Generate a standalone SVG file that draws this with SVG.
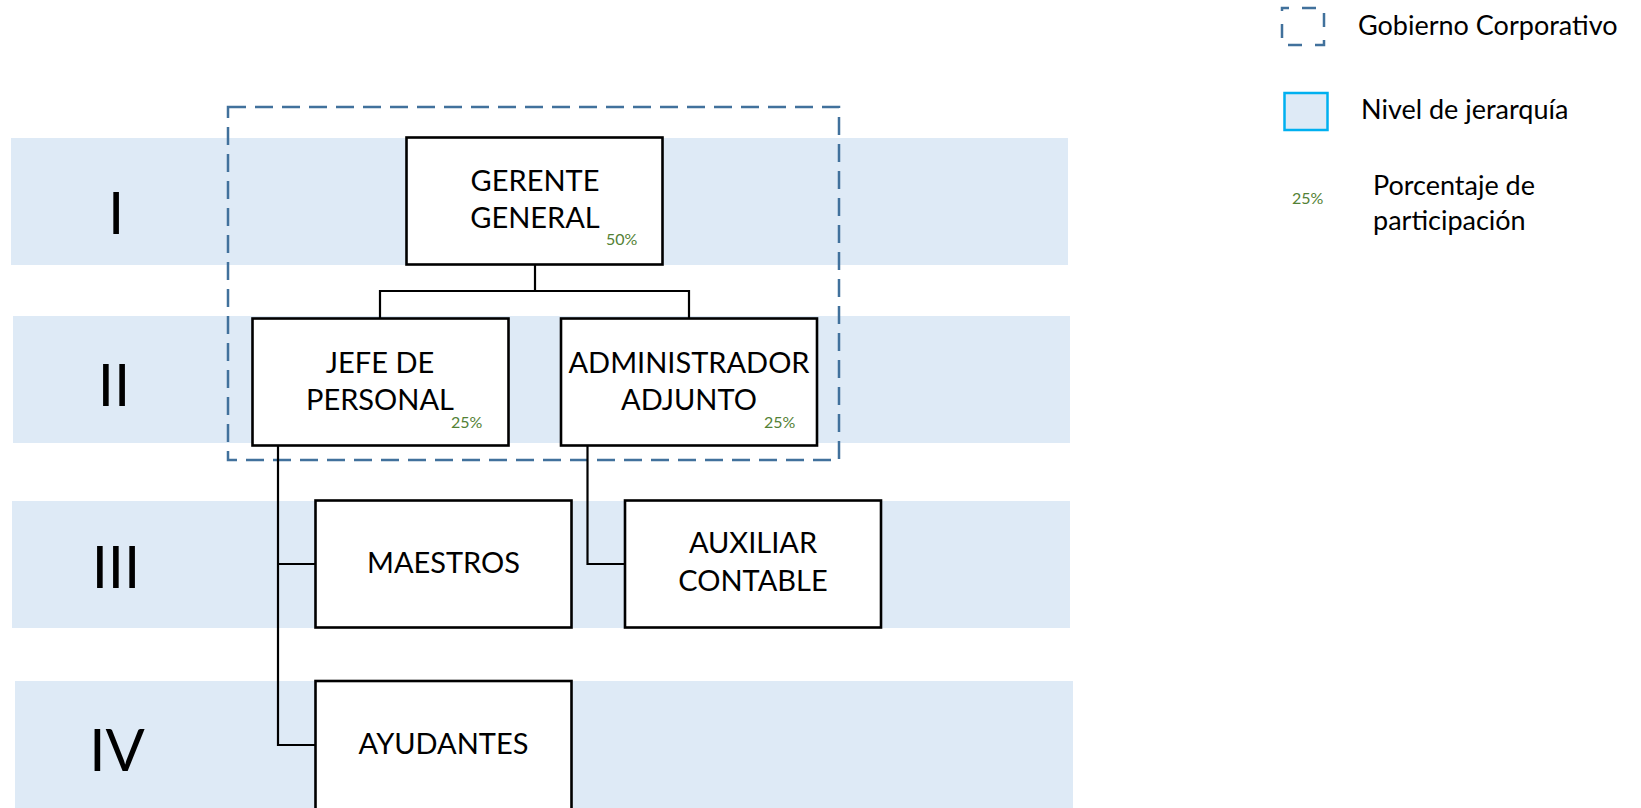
<svg xmlns="http://www.w3.org/2000/svg" width="1641" height="808" viewBox="0 0 1641 808">
<style>
.band{fill:#DEEAF6;}
.box{fill:#FFFFFF;stroke:#000000;stroke-width:2.6;}
.lbl{font-family:Lato,"Liberation Sans",sans-serif;font-size:29px;fill:#000000;text-anchor:middle;}
.pct{font-family:Lato,"Liberation Sans",sans-serif;font-size:16px;fill:#538135;}
.num{font-family:Lato,"Liberation Sans",sans-serif;font-size:58px;fill:#000000;text-anchor:middle;}
.leg{font-family:Lato,"Liberation Sans",sans-serif;font-size:27px;fill:#000000;}
.conn{fill:none;stroke:#000000;stroke-width:2.2;}
.gov{fill:none;stroke:#41719C;stroke-width:2.5;stroke-dasharray:18 9;}
</style>
<rect width="1641" height="808" fill="#FFFFFF"/>
<g id="bands">
<rect class="band" x="11" y="138" width="1057" height="127"/>
<rect class="band" x="13" y="316" width="1057" height="127"/>
<rect class="band" x="12" y="501" width="1058" height="127"/>
<rect class="band" x="15" y="681" width="1058" height="127"/>
<text class="num" x="116" y="234">I</text>
<text class="num" x="114" y="406">II</text>
<text class="num" x="116" y="588">III</text>
<text class="num" x="117" y="771">IV</text>
</g>
<g id="gobierno">
<rect class="gov" x="228" y="107" width="611" height="353"/>
</g>
<g id="connectors">
<polyline class="conn" points="535,265 535,291"/>
<polyline class="conn" points="380,318 380,291 689,291 689,318"/>
<polyline class="conn" points="278,446 278,745 315,745"/>
<polyline class="conn" points="278,564 315,564"/>
<polyline class="conn" points="587.5,446 587.5,564 625,564"/>
</g>
<g id="gerente">
<rect class="box" x="406.5" y="137.5" width="256" height="127"/>
<text class="lbl" x="535" y="191">GERENTE</text>
<text class="lbl" x="535" y="228">GENERAL</text>
<text class="pct" x="606" y="245">50%</text>
</g>
<g id="jefe">
<rect class="box" x="252.5" y="318.5" width="256" height="127"/>
<text class="lbl" x="380" y="373">JEFE DE</text>
<text class="lbl" x="380" y="410">PERSONAL</text>
<text class="pct" x="451" y="428">25%</text>
</g>
<g id="administrador">
<rect class="box" x="561" y="318.5" width="256" height="127"/>
<text class="lbl" x="689" y="373">ADMINISTRADOR</text>
<text class="lbl" x="689" y="410">ADJUNTO</text>
<text class="pct" x="764" y="428">25%</text>
</g>
<g id="maestros">
<rect class="box" x="315.5" y="500.5" width="256" height="127"/>
<text class="lbl" x="443.5" y="573">MAESTROS</text>
</g>
<g id="auxiliar">
<rect class="box" x="625" y="500.5" width="256" height="127"/>
<text class="lbl" x="753" y="553">AUXILIAR</text>
<text class="lbl" x="753" y="591">CONTABLE</text>
</g>
<g id="ayudantes">
<rect class="box" x="315.5" y="681" width="256" height="135"/>
<text class="lbl" x="443.5" y="754">AYUDANTES</text>
</g>
<g id="legend">
<rect class="gov" x="1282" y="8" width="42" height="37" style="stroke-dasharray:14 13;stroke-dashoffset:7"/>
<text class="leg" x="1358" y="35">Gobierno Corporativo</text>
<rect x="1284.5" y="93" width="43" height="37" fill="#DEEAF6" stroke="#00B0F0" stroke-width="2.5"/>
<text class="leg" x="1361" y="119">Nivel de jerarquía</text>
<text class="pct" x="1292" y="204">25%</text>
<text class="leg" x="1373" y="195">Porcentaje de</text>
<text class="leg" x="1373" y="230">participación</text>
</g>
</svg>
